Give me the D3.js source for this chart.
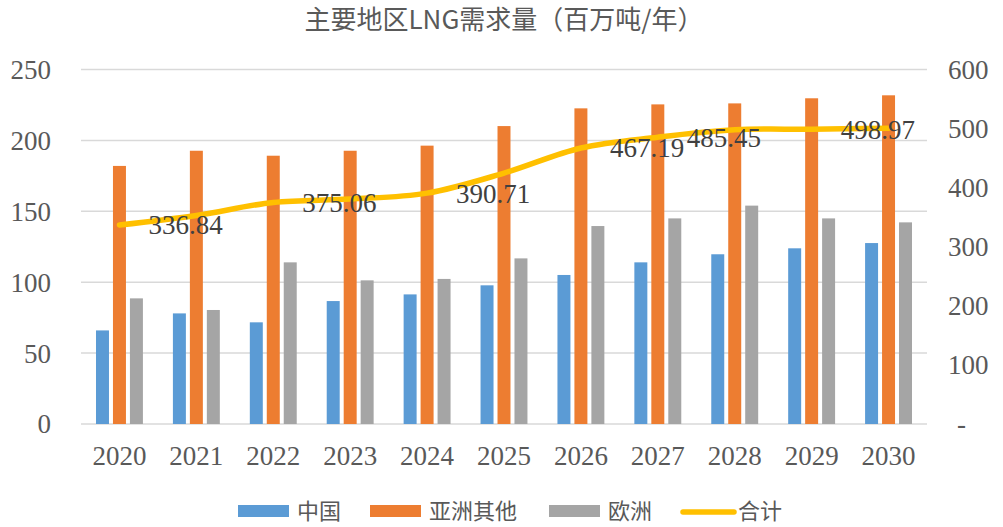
<!DOCTYPE html>
<html>
<head>
<meta charset="utf-8">
<script src="https://cdn.jsdelivr.net/npm/d3@7"></script>
<style>
  body { margin: 0; background: #fff; }
</style>
</head>
<body>
<script>
  var years = ["2020", "2021", "2022", "2023", "2024", "2025", "2026", "2027", "2028", "2029", "2030"];
  var china = [66, 78, 71.7, 86.7, 91.4, 97.8, 105.1, 114, 119.7, 123.9, 127.6];
  var asiaOther = [182, 192.7, 189.2, 192.7, 196.3, 210.1, 222.6, 225.4, 226.1, 229.7, 231.8];
  var europe = [88.6, 80.4, 114, 101.3, 102.3, 116.8, 139.6, 145, 154, 145, 142.2];
  var total = [336.84, 353, 375.06, 380.7, 390.71, 424.7, 467.19, 485.45, 498, 498.97, 500.5];
  var labelYears = ["2020", "2022", "2024", "2026", "2027", "2029"];
  var leftTicks = [0, 50, 100, 150, 200, 250];
  var rightTicks = [0, 100, 200, 300, 400, 500, 600];
  var seriesNames = ["中国", "亚洲其他", "欧洲"];
  var colors = ["#5B9BD5", "#ED7D31", "#A5A5A5"];
  var lineColor = "#FFC000";

  var w = 1003, h = 527;
  var plotLeft = 81, plotRight = 927, plotTop = 69.5, plotBottom = 424;

  var svg = d3.select("body").append("svg")
              .attr("width", w)
              .attr("height", h);

  var x = d3.scaleBand()
            .domain(years)
            .range([plotLeft, plotRight])
            .paddingInner(0.39)
            .paddingOuter(0.195);

  var xSub = d3.scaleBand()
               .domain(seriesNames)
               .range([0, x.bandwidth()])
               .paddingInner(0.235);

  var yL = d3.scaleLinear().domain([0, 250]).range([plotBottom, plotTop]);
  var yR = d3.scaleLinear().domain([0, 600]).range([plotBottom, plotTop]);

  // title
  svg.append("text")
     .attr("x", 504)
     .attr("y", 29)
     .attr("text-anchor", "middle")
     .attr("font-family", "Noto Sans CJK SC")
     .attr("font-size", "26px")
     .attr("fill", "#595959")
     .text("主要地区LNG需求量（百万吨/年）");

  // gridlines
  svg.selectAll("line.grid")
     .data(leftTicks)
     .enter()
     .append("line")
     .attr("class", "grid")
     .attr("x1", plotLeft)
     .attr("x2", plotRight)
     .attr("y1", function(d){ return yL(d); })
     .attr("y2", function(d){ return yL(d); })
     .attr("stroke", "#D9D9D9")
     .attr("stroke-width", 1.5);

  // left axis labels
  svg.selectAll("text.yl")
     .data(leftTicks)
     .enter()
     .append("text")
     .attr("class", "yl")
     .attr("x", 51)
     .attr("y", function(d){ return yL(d); })
     .attr("dy", "0.35em")
     .attr("text-anchor", "end")
     .attr("font-family", "Liberation Serif")
     .attr("font-size", "27px")
     .attr("fill", "#595959")
     .text(function(d){ return d; });

  // right axis labels
  svg.selectAll("text.yr")
     .data(rightTicks)
     .enter()
     .append("text")
     .attr("class", "yr")
     .attr("x", function(d){ return d === 0 ? 957 : 948; })
     .attr("y", function(d){ return yR(d); })
     .attr("dy", "0.35em")
     .attr("font-family", "Liberation Serif")
     .attr("font-size", "27px")
     .attr("fill", "#595959")
     .text(function(d){ return d === 0 ? "-" : d; });

  // x labels
  svg.selectAll("text.xl")
     .data(years)
     .enter()
     .append("text")
     .attr("class", "xl")
     .attr("x", function(d){ return x(d) + x.bandwidth() / 2; })
     .attr("y", 465)
     .attr("text-anchor", "middle")
     .attr("font-family", "Liberation Serif")
     .attr("font-size", "27px")
     .attr("fill", "#595959")
     .text(function(d){ return d; });

  // bars
  var series = [china, asiaOther, europe];
  series.forEach(function(vals, s){
    svg.selectAll("rect.s" + s)
       .data(vals)
       .enter()
       .append("rect")
       .attr("class", "s" + s)
       .attr("x", function(d, i){ return x(years[i]) + xSub(seriesNames[s]); })
       .attr("y", function(d){ return yL(d); })
       .attr("width", xSub.bandwidth())
       .attr("height", function(d){ return plotBottom - yL(d); })
       .attr("fill", colors[s]);
  });

  // total line
  var line = d3.line()
               .x(function(d, i){ return x(years[i]) + x.bandwidth() / 2; })
               .y(function(d){ return yR(d); })
               .curve(d3.curveCardinal.tension(0));

  svg.append("path")
     .datum(total)
     .attr("d", line)
     .attr("fill", "none")
     .attr("stroke", lineColor)
     .attr("stroke-width", 5.5)
     .attr("stroke-linecap", "round");

  // data labels
  svg.selectAll("text.lbl")
     .data(total.filter(function(d, i){ return labelYears.indexOf(years[i]) >= 0; }))
     .enter()
     .append("text")
     .attr("class", "lbl")
     .attr("x", function(d){
       var i = total.indexOf(d);
       return x(years[i]) + x.bandwidth() / 2 + 29;
     })
     .attr("y", function(d){ return yR(d); })
     .attr("dy", "0.35em")
     .attr("font-family", "Liberation Serif")
     .attr("font-size", "27px")
     .attr("fill", "#404040")
     .text(function(d){ return d.toFixed(2); });

  // legend
  var legend = [
    {name: "中国", x: 238, type: "rect", color: colors[0]},
    {name: "亚洲其他", x: 370, type: "rect", color: colors[1]},
    {name: "欧洲", x: 549, type: "rect", color: colors[2]},
    {name: "合计", x: 681, type: "line", color: lineColor}
  ];
  legend.forEach(function(item){
    if (item.type === "rect") {
      svg.append("rect")
         .attr("x", item.x)
         .attr("y", 505)
         .attr("width", 51)
         .attr("height", 12)
         .attr("fill", item.color);
    } else {
      svg.append("line")
         .attr("x1", item.x + 2)
         .attr("x2", item.x + 53)
         .attr("y1", 512)
         .attr("y2", 512)
         .attr("stroke", item.color)
         .attr("stroke-width", 5.5)
         .attr("stroke-linecap", "round");
    }
    svg.append("text")
       .attr("x", item.x + (item.type === "rect" ? 59 : 57))
       .attr("y", 519)
       .attr("font-family", "Liberation Serif, Noto Sans CJK SC")
       .attr("font-size", "22px")
       .attr("fill", "#595959")
       .text(item.name);
  });
</script>
</body>
</html>
